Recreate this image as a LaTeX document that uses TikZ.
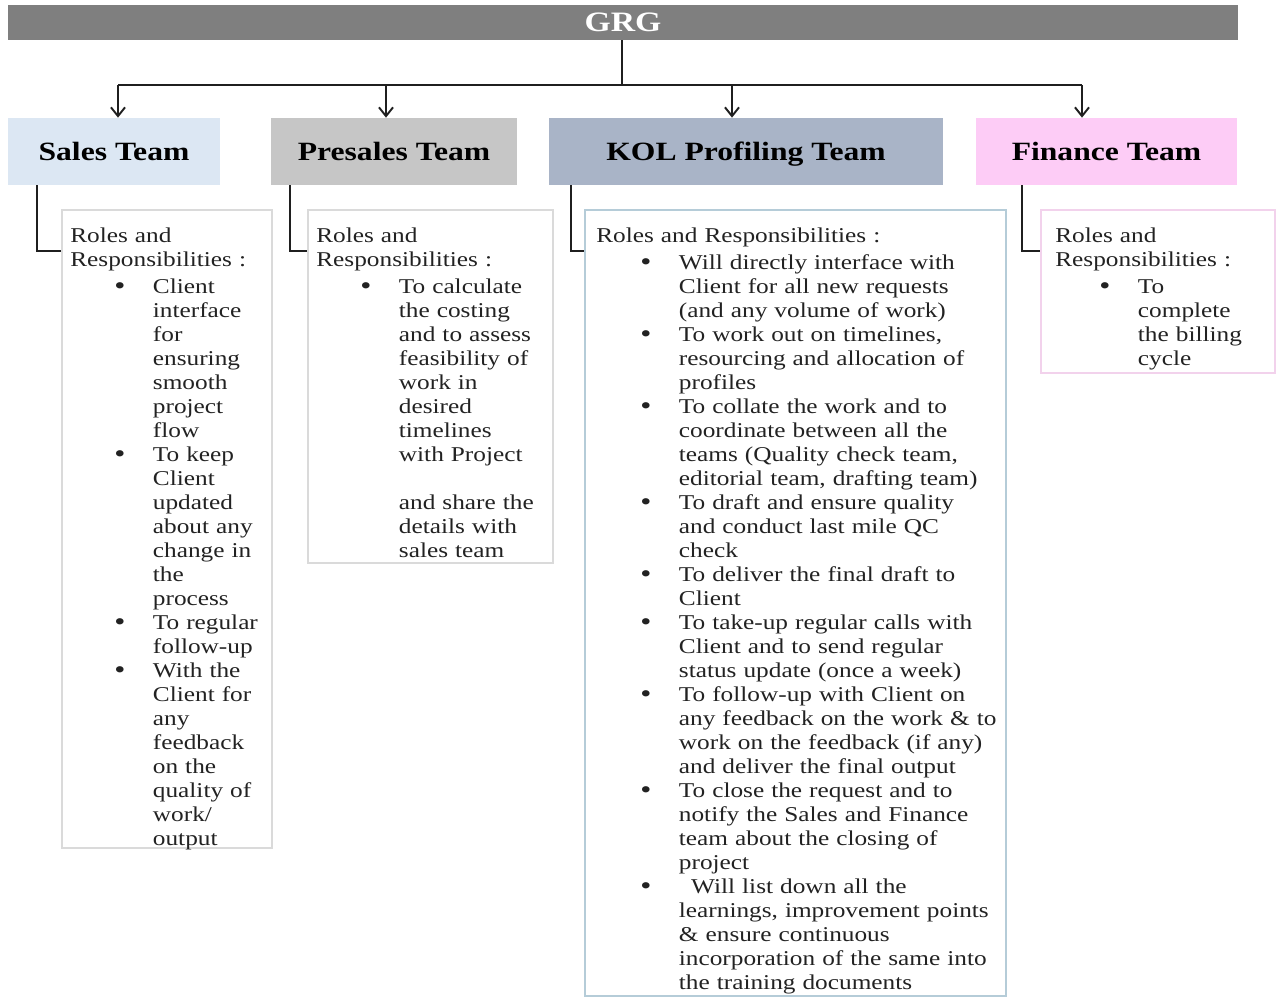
\documentclass[tikz,border=0pt]{standalone}
\usepackage{fontspec}
\setmainfont{Liberation Serif}[FakeStretch=1.2]
\usepackage{enumitem}
\usetikzlibrary{arrows.meta, calc, fit, positioning}
\definecolor{grggray}{HTML}{7F7F7F}
\definecolor{salesblue}{HTML}{DCE7F3}
\definecolor{presgray}{HTML}{C6C6C6}
\definecolor{kolslate}{HTML}{A9B4C7}
\definecolor{finpink}{HTML}{FDCCF6}
\definecolor{linedark}{HTML}{1F1F1F}
\definecolor{textdark}{HTML}{222222}
\definecolor{boxgray}{HTML}{DADADA}
\definecolor{boxblue}{HTML}{B5CCD8}
\definecolor{boxpink}{HTML}{F2D2EC}
\newcommand{\bodyfont}{\fontsize{12}{13.66}\selectfont}
\newcommand{\headfont}{\fontsize{15}{17}\selectfont\bfseries}
\setlist[itemize]{nosep, topsep=1.5pt, leftmargin=47pt, labelwidth=22pt,
  labelsep=0pt, align=left,
  label={\raisebox{-0.6pt}{\fontsize{15}{15}\selectfont\textbullet}}}
\tikzset{
  % Top bar
  topbar/.style={
    fill=grggray, text=white, font=\fontsize{16}{18}\selectfont\bfseries,
    minimum width=24.6cm, minimum height=0.7cm, inner sep=0pt,
  },
  % Team headers — flat fills
  team/.style 2 args={
    fill=#1, minimum width=#2*0.02cm, minimum height=1.34cm,
    inner sep=0pt, text depth=0pt, font=\headfont, text=black,
  },
  % Roles panels
  rolebox/.style={draw=#1, line width=0.8pt, inner sep=0pt},
  roletext/.style={
    anchor=north west, inner sep=0pt, text width=#1*0.02cm,
    align=left, font=\bodyfont, text=textdark,
  },
  % Connectors
  link/.style={draw=linedark, line width=1.1pt},
  arr/.style={link, -{Straight Barb[length=5pt, width=8pt]}},
}
\begin{document}
\begin{tikzpicture}[x=0.02cm, y=-0.02cm]
  \useasboundingbox (0,0) rectangle (1276,998);
  \node[topbar] (grg) at (623,22.5) {GRG};
  % team headers
  \node[team={salesblue}{212}] (sales) at (114,151.5) {Sales Team};
  \node[team={presgray}{246}] (presales) at (394,151.5) {Presales Team};
  \node[team={kolslate}{394}] (kol) at (746,151.5) {KOL Profiling Team};
  \node[team={finpink}{261}] (fin) at (1106.5,151.5) {Finance Team};
  % tree from the bar
  \coordinate (bus) at (622,85);
  \draw[link] (grg.south -| bus) -- (bus);
  \foreach \t/\x in {sales/118, presales/386, kol/732, fin/1082} {
    \coordinate (a\t) at (\x,85);
    \draw[arr] (a\t) -- (a\t |- \t.north);
  }
  \draw[link] (asales) -- (afin);
  % roles panels
  \node[rolebox=boxgray, fit={(62,210) (272,848)}] (salesbox) {};
  \node[rolebox=boxgray, fit={(308,210) (553,563)}] (presbox) {};
  \node[rolebox=boxblue, fit={(585,210) (1006,996)}] (kolbox) {};
  \node[rolebox=boxpink, fit={(1041,210) (1275,373)}] (finbox) {};
  \foreach \t/\b/\dx in {sales/salesbox/29, presales/presbox/19,
                         kol/kolbox/22, fin/finbox/46}
    \draw[link] ($(\t.south west)+(\dx,0)$) |- ($(\b.north west)+(0,42)$);
  \node[roletext=200] (salestext) at (70,228) {Roles and\\Responsibilities :
    \begin{itemize}
      \item Client\\interface\\for\\ensuring\\smooth\\project\\flow
      \item To keep\\Client\\updated\\about any\\change in\\the\\process
      \item To regular\\follow-up
      \item With the\\Client for\\any\\feedback\\on the\\quality of\\work/\\output
    \end{itemize}};
  \node[roletext=235] (prestext) at (316,228) {Roles and\\Responsibilities :
    \begin{itemize}
      \item To calculate\\the costing\\and to assess\\feasibility of\\work in\\desired\\timelines\\with Project\\[13.66pt]and share the\\details with\\sales team
    \end{itemize}};
  \node[roletext=420] (koltext) at (596,228) {Roles and Responsibilities :
    \begin{itemize}
      \item Will directly interface with\\Client for all new requests\\(and any volume of work)
      \item To work out on timelines,\\resourcing and allocation of\\profiles
      \item To collate the work and to\\coordinate between all the\\teams (Quality check team,\\editorial team, drafting team)
      \item To draft and ensure quality\\and conduct last mile QC\\check
      \item To deliver the final draft to\\Client
      \item To take-up regular calls with\\Client and to send regular\\status update (once a week)
      \item To follow-up with Client on\\any feedback on the work \& to\\work on the feedback (if any)\\and deliver the final output
      \item To close the request and to\\notify the Sales and Finance\\team about the closing of\\project
      \item \hspace*{7pt}Will list down all the\\learnings, improvement points\\\& ensure continuous\\incorporation of the same into\\the training documents
    \end{itemize}};
  \node[roletext=210] (fintext) at (1055,228) {Roles and\\Responsibilities :
    \begin{itemize}
      \item To\\complete\\the billing\\cycle
    \end{itemize}};
\end{tikzpicture}
\end{document}
